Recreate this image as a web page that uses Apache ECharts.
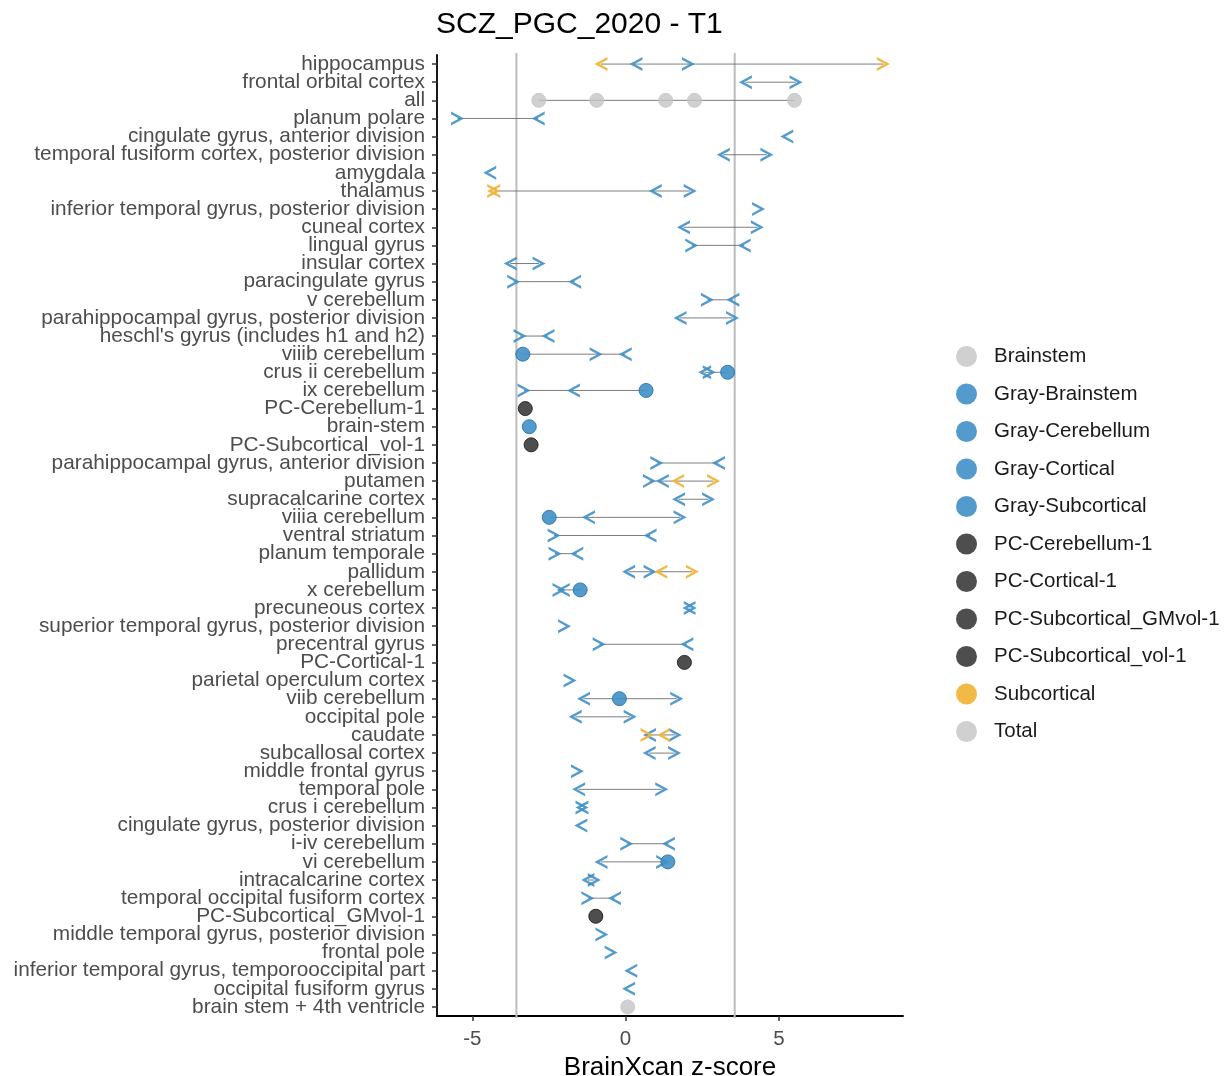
<!DOCTYPE html>
<html>
<head>
<meta charset="utf-8">
<script src="https://cdn.jsdelivr.net/npm/echarts@6/dist/echarts.min.js"></script>
<style>html,body{margin:0;padding:0;background:#fff}#c{width:1227px;height:1076px}</style>
</head>
<body>
<div id="c"></div>
<script>
// ---------- DATA ----------
const titleText = 'SCZ_PGC_2020 - T1';
const xTicks = [-5, 0, 5];
const thresholds = [-3.56, 3.56];

const categories = [
  'hippocampus','frontal orbital cortex','all','planum polare',
  'cingulate gyrus, anterior division','temporal fusiform cortex, posterior division',
  'amygdala','thalamus','inferior temporal gyrus, posterior division','cuneal cortex',
  'lingual gyrus','insular cortex','paracingulate gyrus','v cerebellum',
  'parahippocampal gyrus, posterior division',"heschl's gyrus (includes h1 and h2)",
  'viiib cerebellum','crus ii cerebellum','ix cerebellum','PC-Cerebellum-1','brain-stem',
  'PC-Subcortical_vol-1','parahippocampal gyrus, anterior division','putamen',
  'supracalcarine cortex','viiia cerebellum','ventral striatum','planum temporale',
  'pallidum','x cerebellum','precuneous cortex','superior temporal gyrus, posterior division',
  'precentral gyrus','PC-Cortical-1','parietal operculum cortex','viib cerebellum',
  'occipital pole','caudate','subcallosal cortex','middle frontal gyrus','temporal pole',
  'crus i cerebellum','cingulate gyrus, posterior division','i-iv cerebellum','vi cerebellum',
  'intracalcarine cortex','temporal occipital fusiform cortex','PC-Subcortical_GMvol-1',
  'middle temporal gyrus, posterior division','frontal pole',
  'inferior temporal gyrus, temporooccipital part','occipital fusiform gyrus',
  'brain stem + 4th ventricle'
];

// [category, marker, z-score]  marker: '<', '>' or 'o'
const brainstem = [
  ['brain stem + 4th ventricle','o',0.07]
];
const grayBrainstem = [
  ['brain-stem','o',-3.14]
];
const grayCerebellum = [
  ['v cerebellum','>',2.67],['v cerebellum','<',3.50],
  ['viiib cerebellum','o',-3.35],['viiib cerebellum','>',-0.96],['viiib cerebellum','<',-0.01],
  ['crus ii cerebellum','<',2.58],['crus ii cerebellum','>',2.73],['crus ii cerebellum','o',3.33],
  ['ix cerebellum','>',-3.31],['ix cerebellum','<',-1.70],['ix cerebellum','o',0.67],
  ['viiia cerebellum','o',-2.49],['viiia cerebellum','<',-1.21],['viiia cerebellum','>',1.78],
  ['x cerebellum','>',-2.17],['x cerebellum','<',-2.03],['x cerebellum','o',-1.48],
  ['viib cerebellum','<',-1.37],['viib cerebellum','o',-0.20],['viib cerebellum','>',1.67],
  ['crus i cerebellum','<',-1.42],['crus i cerebellum','>',-1.42],
  ['i-iv cerebellum','>',0.04],['i-iv cerebellum','<',1.40],
  ['vi cerebellum','<',-0.80],['vi cerebellum','>',1.21],['vi cerebellum','o',1.38]
];
const grayCortical = [
  ['frontal orbital cortex','<',3.91],['frontal orbital cortex','>',5.56],
  ['planum polare','>',-5.48],['planum polare','<',-2.85],
  ['cingulate gyrus, anterior division','<',5.26],
  ['temporal fusiform cortex, posterior division','<',3.19],['temporal fusiform cortex, posterior division','>',4.61],
  ['inferior temporal gyrus, posterior division','>',4.34],
  ['cuneal cortex','<',1.89],['cuneal cortex','>',4.30],
  ['lingual gyrus','>',2.16],['lingual gyrus','<',3.87],
  ['insular cortex','<',-3.76],['insular cortex','>',-2.82],
  ['paracingulate gyrus','>',-3.65],['paracingulate gyrus','<',-1.66],
  ['parahippocampal gyrus, posterior division','<',1.78],['parahippocampal gyrus, posterior division','>',3.49],
  ["heschl's gyrus (includes h1 and h2)",'>',-3.44],["heschl's gyrus (includes h1 and h2)",'<',-2.53],
  ['parahippocampal gyrus, anterior division','>',1.02],['parahippocampal gyrus, anterior division','<',3.03],
  ['supracalcarine cortex','<',1.73],['supracalcarine cortex','>',2.71],
  ['planum temporale','>',-2.30],['planum temporale','<',-1.59],
  ['precuneous cortex','<',2.07],['precuneous cortex','>',2.11],
  ['superior temporal gyrus, posterior division','>',-1.99],
  ['precentral gyrus','>',-0.86],['precentral gyrus','<',2.00],
  ['parietal operculum cortex','>',-1.81],
  ['occipital pole','<',-1.64],['occipital pole','>',0.15],
  ['subcallosal cortex','<',0.77],['subcallosal cortex','>',1.60],
  ['middle frontal gyrus','>',-1.57],
  ['temporal pole','<',-1.53],['temporal pole','>',1.18],
  ['cingulate gyrus, posterior division','<',-1.46],
  ['intracalcarine cortex','<',-1.23],['intracalcarine cortex','>',-1.02],
  ['temporal occipital fusiform cortex','>',-1.23],['temporal occipital fusiform cortex','<',-0.36],
  ['middle temporal gyrus, posterior division','>',-0.77],
  ['frontal pole','>',-0.47],
  ['inferior temporal gyrus, temporooccipital part','<',0.17],
  ['occipital fusiform gyrus','<',0.10]
];
const graySubcortical = [
  ['hippocampus','<',0.34],['hippocampus','>',2.05],
  ['amygdala','<',-4.43],
  ['thalamus','<',0.97],['thalamus','>',2.11],
  ['putamen','>',0.78],['putamen','<',1.20],
  ['ventral striatum','>',-2.33],['ventral striatum','<',0.80],
  ['pallidum','<',0.10],['pallidum','>',0.80],
  ['caudate','<',0.78],['caudate','>',1.62]
];
const pcCerebellum = [['PC-Cerebellum-1','o',-3.27]];
const pcCortical = [['PC-Cortical-1','o',1.92]];
const pcSubGM = [['PC-Subcortical_GMvol-1','o',-0.97]];
const pcSubVol = [['PC-Subcortical_vol-1','o',-3.08]];
const subcortical = [
  ['hippocampus','<',-0.80],['hippocampus','>',8.41],
  ['thalamus','<',-4.30],['thalamus','>',-4.30],
  ['putamen','<',1.70],['putamen','>',2.87],
  ['pallidum','<',1.15],['pallidum','>',2.18],
  ['caudate','>',0.70],['caudate','<',1.24]
];
const total = [
  ['all','o',-2.83],['all','o',-0.94],['all','o',1.31],['all','o',2.25],['all','o',5.51]
];

// ---------- STYLE ----------
const BLUE = '#3f90c7', ORANGE = '#f0b63c', DARK = '#444444', LIGHT = '#c4c4c4';
const LT = 'path://M13,0 L0,7 L13,14 L13,11.3 L5,7 L13,2.7 Z';
const GT = 'path://M0,0 L13,7 L0,14 L0,11.3 L8,7 L0,2.7 Z';

const groups = [
  {name:'Brainstem', rows:brainstem, color:LIGHT, border:LIGHT, op:0.8},
  {name:'Gray-Brainstem', rows:grayBrainstem, color:BLUE, border:'#2a74ad', op:0.9},
  {name:'Gray-Cerebellum', rows:grayCerebellum, color:BLUE, border:'#2a74ad', op:0.9},
  {name:'Gray-Cortical', rows:grayCortical, color:BLUE, border:'#2a74ad', op:0.9},
  {name:'Gray-Subcortical', rows:graySubcortical, color:BLUE, border:'#2a74ad', op:0.9},
  {name:'PC-Cerebellum-1', rows:pcCerebellum, color:DARK, border:'#222', op:0.95},
  {name:'PC-Cortical-1', rows:pcCortical, color:DARK, border:'#222', op:0.95},
  {name:'PC-Subcortical_GMvol-1', rows:pcSubGM, color:DARK, border:'#222', op:0.95},
  {name:'PC-Subcortical_vol-1', rows:pcSubVol, color:DARK, border:'#222', op:0.95},
  {name:'Subcortical', rows:subcortical, color:ORANGE, border:ORANGE, op:0.95},
  {name:'Total', rows:total, color:LIGHT, border:LIGHT, op:0.8}
];

// range segments per category: [min, max, category]
const all = [];
groups.forEach(g => g.rows.forEach(r => all.push(r)));
const segData = [];
categories.forEach((c) => {
  const vals = all.filter(r => r[0] === c).map(r => r[2]);
  if (vals.length > 1) segData.push([Math.min(...vals), Math.max(...vals), c]);
});

const series = [
  {
    type:'custom', name:'thresholds', silent:true, z:1,
    data: thresholds.map(t => [t, categories[0]]),
    encode:{x:0, y:1},
    renderItem: (params, api) => {
      const cs = params.coordSys;
      const x = api.coord([api.value(0), 0])[0];
      return {type:'line', shape:{x1:x, y1:cs.y - 2, x2:x, y2:cs.y + cs.height + 2},
              style:{stroke:'#bdbdbd', lineWidth:2}};
    }
  },
  {
    type:'custom', name:'range', silent:true, z:2,
    dimensions:[{name:'lo',type:'float'},{name:'hi',type:'float'},{name:'cat',type:'ordinal'}],
    encode:{x:[0,1], y:2},
    data: segData,
    renderItem: (params, api) => {
      const yi = api.value(2);
      const p1 = api.coord([api.value(0), yi]);
      const p2 = api.coord([api.value(1), yi]);
      return {type:'line', shape:{x1:p1[0], y1:p1[1], x2:p2[0], y2:p2[1]},
              style:{stroke:'#666666', lineWidth:1, opacity:0.85}};
    }
  }
];

groups.forEach(g => {
  series.push({
    type:'scatter', name:g.name, z:3,
    itemStyle:{color:g.color, borderColor:g.border, borderWidth:1, opacity:g.op},
    data: g.rows.map(r => {
      const item = {value:[r[2], r[0]]};
      if (r[1] === 'o') { item.symbol = 'circle'; item.symbolSize = 14; }
      else { item.symbol = r[1] === '<' ? LT : GT; item.symbolSize = [13,14];
             item.itemStyle = {borderWidth:0}; }
      return item;
    })
  });
});

const chart = echarts.init(document.getElementById('c'), null, {renderer:'canvas'});
chart.setOption({
  animation:false,
  backgroundColor:'#fff',
  textStyle:{fontFamily:'Liberation Sans'},
  title:{text:titleText, left:431, top:5,
         textStyle:{fontSize:30, fontWeight:'normal', color:'#000', fontFamily:'Liberation Sans'}},
  grid:{left:437, right:324, top:55, bottom:60, containLabel:false, outerBoundsMode:'none'},
  legend:{
    orient:'vertical', left:951, top:341, itemWidth:21, itemHeight:21, itemGap:16.5,
    selectedMode:false,
    textStyle:{fontSize:20.5, color:'#1a1a1a', padding:[0,0,0,12]},
    data: groups.map(g => ({name:g.name, icon:'circle',
      itemStyle:{color:g.color, borderWidth:0, opacity:g.op}}))
  },
  xAxis:{
    type:'value', min:-6.15, max:9.05,
    name:'BrainXcan z-score', nameLocation:'middle', nameGap:31,
    nameTextStyle:{fontSize:26, color:'#000'},
    axisLine:{show:true, onZero:false, lineStyle:{color:'#000', width:1.8}},
    axisTick:{show:true, length:5, customValues:xTicks, lineStyle:{color:'#333', width:1.5}},
    axisLabel:{customValues:xTicks, fontSize:20.5, color:'#4d4d4d', margin:13},
    splitLine:{show:false}
  },
  yAxis:{
    type:'category', data:categories, inverse:true,
    axisLine:{show:true, onZero:false, lineStyle:{color:'#000', width:1.8}},
    axisTick:{show:true, alignWithLabel:true, length:5, lineStyle:{color:'#333', width:1.5}},
    axisLabel:{interval:0, fontSize:20.8, color:'#4d4d4d', margin:12},
    splitLine:{show:false}
  },
  series: series
});
</script>
</body>
</html>
